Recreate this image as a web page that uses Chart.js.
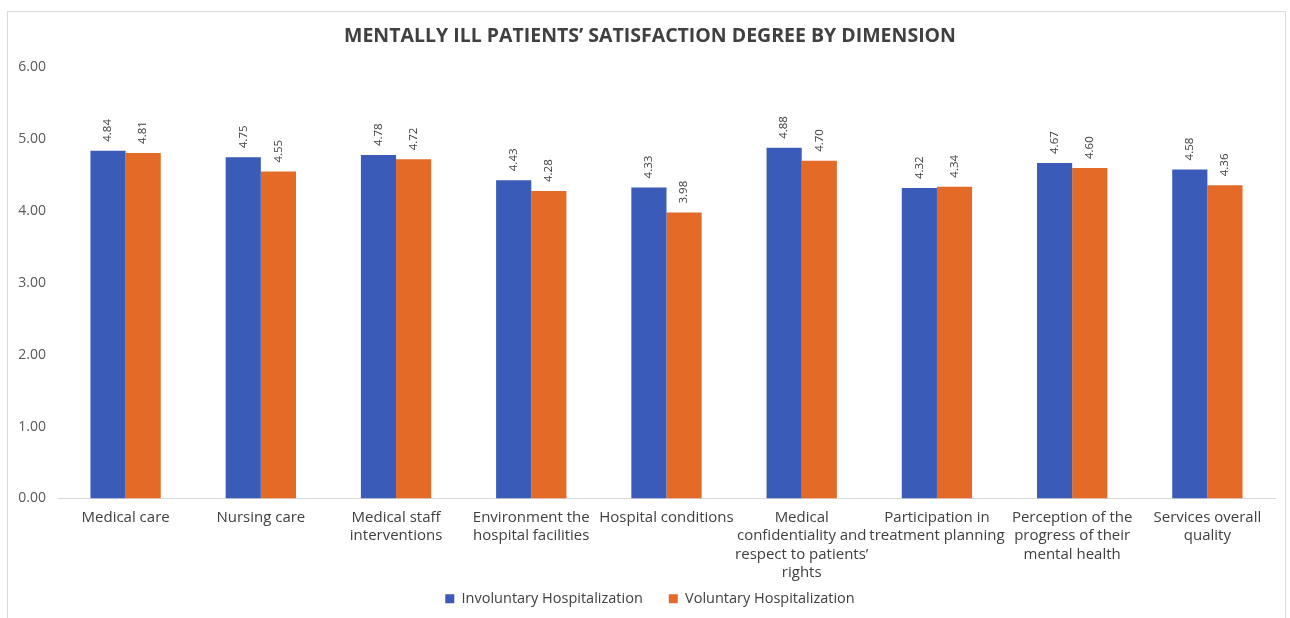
<!DOCTYPE html>
<html lang="en">

<head>
    <meta charset="UTF-8">
    <title>Satisfaction degree by dimension</title>
    <script src="https://cdn.jsdelivr.net/npm/chart.js@4.4.0/dist/chart.umd.min.js"></script>
    <style>
        html,
        body {
            margin: 0;
            padding: 0;
            background: #fff;
        }

        .frame {
            position: absolute;
            left: 7px;
            top: 11px;
            width: 1277px;
            height: 620px;
            border: 1px solid #d9d9d9;
            border-bottom: none;
        }

        #myChart {
            position: absolute;
            left: 0;
            top: 0;
        }
    </style>
</head>

<body>
    <div class="frame"></div>
    <canvas id="myChart" width="1290" height="618"></canvas>
    <script>
        const categories = [
            'Medical care',
            'Nursing care',
            ['Medical staff', 'interventions'],
            ['Environment the', 'hospital facilities'],
            'Hospital conditions',
            ['Medical', 'confidentiality and', 'respect to patients\u2019', 'rights'],
            ['Participation in', 'treatment planning'],
            ['Perception of the', 'progress of their', 'mental health'],
            ['Services overall', 'quality']
        ];
        const involuntary = [4.84, 4.75, 4.78, 4.43, 4.33, 4.88, 4.32, 4.67, 4.58];
        const voluntary = [4.81, 4.55, 4.72, 4.28, 3.98, 4.70, 4.34, 4.60, 4.36];
        const yTicks = [0, 1, 2, 3, 4, 5, 6];

        // values written vertically above each bar
        const barLabels = {
            id: 'barLabels',
            afterDatasetsDraw(chart) {
                const ctx = chart.ctx;
                ctx.save();
                ctx.fillStyle = '#404040';
                ctx.font = '11.5px "Open Sans"';
                ctx.textAlign = 'left';
                ctx.textBaseline = 'middle';
                chart.data.datasets.forEach((ds, i) => {
                    chart.getDatasetMeta(i).data.forEach((bar, j) => {
                        ctx.save();
                        ctx.translate(bar.x, bar.y - 9);
                        ctx.rotate(-Math.PI / 2);
                        ctx.fillText(ds.data[j].toFixed(2), 0, 0);
                        ctx.restore();
                    });
                });
                ctx.restore();
            }
        };

        // let the 4-line category label run below the x axis box (it is clipped otherwise)
        const unclipX = {
            id: 'unclipX',
            afterLayout(chart) {
                chart.scales.x.bottom = chart.height;
            }
        };

        const ctx = document.getElementById('myChart').getContext('2d');
        const chart = new Chart(ctx, {
            type: 'bar',
            data: {
                labels: categories,
                datasets: [{
                    label: 'Involuntary Hospitalization',
                    data: involuntary,
                    backgroundColor: '#3A5BB8',
                    barPercentage: 1,
                    categoryPercentage: 0.52
                }, {
                    label: 'Voluntary Hospitalization',
                    data: voluntary,
                    backgroundColor: '#E46A27',
                    barPercentage: 1,
                    categoryPercentage: 0.52
                }]
            },
            options: {
                responsive: false,
                animation: false,
                layout: {
                    padding: { left: 10, right: 0, top: 0, bottom: 2 }
                },
                plugins: {
                    title: {
                        display: true,
                        text: 'MENTALLY ILL PATIENTS\u2019 SATISFACTION DEGREE BY DIMENSION',
                        color: '#404040',
                        font: { family: 'Open Sans', size: 19.5, weight: 'bold' },
                        padding: { top: 25, bottom: 19 }
                    },
                    legend: {
                        position: 'bottom',
                        labels: {
                            color: '#404040',
                            font: { family: 'Open Sans', size: 14.5 },
                            boxWidth: 9,
                            boxHeight: 9,
                            padding: 26
                        }
                    },
                    tooltip: { enabled: false }
                },
                scales: {
                    x: {
                        grid: { display: false },
                        border: { color: '#d9d9d9' },
                        ticks: {
                            color: '#404040',
                            font: { family: 'Open Sans', size: 15, lineHeight: 1.22 },
                            padding: 2,
                            maxRotation: 0,
                            autoSkip: false
                        },
                        afterFit(scale) { scale.height = 67; }
                    },
                    y: {
                        min: 0,
                        max: 6,
                        grid: { display: false, drawTicks: false },
                        border: { display: false },
                        afterBuildTicks(scale) {
                            scale.ticks = yTicks.map(v => ({ value: v }));
                        },
                        ticks: {
                            color: '#595959',
                            font: { family: 'Open Sans', size: 14 },
                            padding: 12,
                            callback: v => v.toFixed(2)
                        },
                        afterFit(scale) { scale.width = 48; }
                    },
                    // empty right margin so the title stays centred on the canvas
                    yRight: {
                        position: 'right',
                        grid: { display: false },
                        border: { display: false },
                        ticks: { display: false },
                        afterFit(scale) { scale.width = 15; }
                    }
                }
            },
            plugins: [barLabels, unclipX]
        });
    </script>
</body>

</html>
